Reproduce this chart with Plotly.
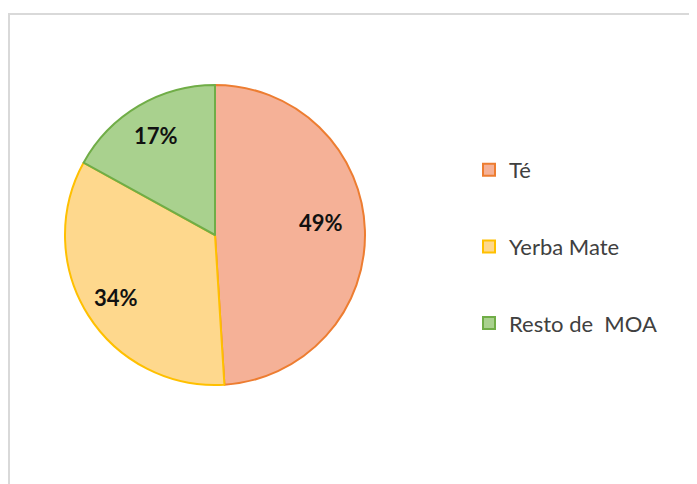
import plotly.graph_objects as go
import math

labels = ["Té", "Yerba Mate", "Resto de\u00a0 MOA"]
values = [49, 34, 17]
fill_colors = ["#F5B197", "#FED88D", "#A9D18E"]
line_colors = ["#ED7D31", "#FFC000", "#70AD47"]

OFF = 8  # page body margin
W, H = 697 - OFF, 484 - OFF
# pie placement in (screen) pixels
cx, cy, r = 215 - OFF, 235 - OFF, 150

fig = go.Figure()
fig.add_trace(go.Pie(
    labels=labels, values=values, sort=False, direction="clockwise", rotation=0,
    marker=dict(colors=fill_colors, line=dict(color=line_colors, width=2)),
    textinfo="none", showlegend=False, hoverinfo="label+percent",
    domain=dict(x=[(cx - r) / W, (cx + r) / W], y=[1 - (cy + r) / H, 1 - (cy - r) / H]),
))

# percent labels placed along each slice's mid angle
total = sum(values)
cum = 0
frac = [0.71, 0.78, 0.77]
yshift = [9, 0, 0]
for v, f, ys in zip(values, frac, yshift):
    mid = (cum + v / 2) / total * 2 * math.pi
    cum += v
    px = cx + f * r * math.sin(mid)
    py = cy - f * r * math.cos(mid)
    fig.add_annotation(x=px / W, y=1 - py / H, xref="paper", yref="paper",
                       xanchor="center", yanchor="middle", yshift=ys,
                       text=f"<b>{round(v / total * 100)}%</b>", showarrow=False,
                       font=dict(family="Lato", size=22, color="#111111"))

# legend via dummy traces
for i, (lab, fc, lc) in enumerate(zip(labels, fill_colors, line_colors)):
    fig.add_trace(go.Scatter(
        x=[None], y=[None], mode="markers", name=lab, legendgroup=str(i),
        marker=dict(symbol="square", size=12, color=fc, line=dict(color=lc, width=2)),
    ))

fig.add_shape(type="rect", xref="paper", yref="paper",
              x0=(9 - OFF) / W, x1=1.02, y0=-0.02, y1=1 - (14 - OFF) / H,
              line=dict(color="#D9D9D9", width=2), fillcolor="rgba(0,0,0,0)", layer="below")

fig.update_layout(
    width=W, height=H, margin=dict(l=0, r=0, t=0, b=0),
    paper_bgcolor="white", plot_bgcolor="white",
    xaxis=dict(visible=False), yaxis=dict(visible=False),
    legend=dict(x=(469 - OFF) / W, y=1 - (149 - OFF) / H, xanchor="left", yanchor="top",
                font=dict(family="Lato", size=22, color="#404040"),
                tracegroupgap=45, itemsizing="constant", bgcolor="rgba(0,0,0,0)"),
    showlegend=True,
)

fig.write_html("out.html")
